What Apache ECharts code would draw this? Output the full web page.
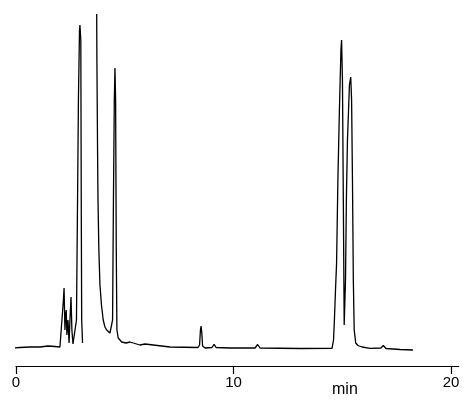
<!DOCTYPE html>
<html>
<head>
<meta charset="utf-8">
<script src="https://cdn.jsdelivr.net/npm/echarts@6/dist/echarts.min.js"></script>
<style>html,body{margin:0;padding:0;background:#fff;}#c{width:474px;height:405px;}</style>
</head>
<body>
<div id="c"></div>
<script>
// retention time (min)
const timeMin = [
 -0.14, 0.18, 0.64, 1.10, 1.47, 1.79, 2.02, 2.11, 2.18, 2.21, 2.25, 2.28, 2.31, 2.34, 2.39, 2.44, 2.48, 2.53, 2.57, 2.62, 2.71,
 2.78, 2.83, 2.87, 2.92, 2.94, 2.98, 3.00, 3.02, 3.06, 3.40, 3.71,
 3.72, 3.75, 3.77, 3.81, 3.86, 3.93, 4.01, 4.09, 4.17, 4.25, 4.32, 4.39, 4.44, 4.48, 4.52, 4.55, 4.58, 4.61, 4.64,
 4.70, 4.86, 5.06, 5.24, 5.33, 5.70, 5.93, 6.02, 7.08, 8.37, 8.44, 8.48, 8.51, 8.54, 8.58, 8.69,
 9.01, 9.11, 9.20, 9.84, 10.99, 11.11, 11.22, 13.06, 14.53, 14.60, 14.64, 14.69, 14.74, 14.80, 14.87, 14.94, 14.97,
 15.01, 15.05, 15.09, 15.15, 15.19, 15.24, 15.29, 15.33, 15.39, 15.43, 15.47, 15.51, 15.55, 15.62, 15.72, 15.91,
 16.28, 16.78, 16.89, 17.01, 17.66, 18.25
];
// detector response (arbitrary units); null = pen lift (rising edge of the off-scale solvent peak not inked)
const signal = [
 18, 18.5, 19, 19, 20, 19.5, 19, 21, 66, 78, 36, 51, 56, 31, 46, 23, 46, 69, 36, 22, 21,
 46, 166, 266, 336, 341, 326, 166, 46, 23, null, 352,
 306, 216, 166, 116, 81, 61, 46, 39, 36, 34, 33, 33, 46, 166, 266, 298, 266, 116, 36,
 28, 24, 23, 24, 22, 21, 22, 20.5, 19, 18.5, 21, 36, 40, 34, 20, 18,
 18.5, 21.7, 18.5, 18, 18, 21.5, 18, 17.5, 17.7, 26, 46, 76, 103, 186, 256, 316, 326,
 286, 166, 41, 86, 166, 226, 256, 281, 289, 266, 186, 86, 36, 23, 20.5, 19,
 17.7, 18, 20.5, 17.5, 16.5, 16
];
const xTicks = [0, 10, 20];
const xUnit = 'min';

const chart = echarts.init(document.getElementById('c'), null, {renderer: 'canvas'});
chart.setOption({
  animation: false,
  backgroundColor: '#fff',
  grid: {left: 16, right: 15.4, top: 14, bottom: 39},
  xAxis: {
    type: 'value', min: 0, max: 20.35,
    splitLine: {show: false},
    axisLine: {show: true, lineStyle: {color: '#000', width: 1.2}},
    axisTick: {show: true, inside: false, length: 8, customValues: xTicks, lineStyle: {color: '#000', width: 1.2}},
    axisLabel: {customValues: xTicks, margin: 9, color: '#000', fontSize: 15, fontFamily: 'Liberation Sans, Arial, sans-serif'}
  },
  yAxis: {type: 'value', min: 0, max: 352, show: false},
  graphic: [{
    type: 'text', left: 332, top: 382,
    style: {text: xUnit, fill: '#000', fontSize: 16, fontFamily: 'Liberation Sans, Arial, sans-serif'}
  }],
  series: [{
    type: 'line', clip: false, symbol: 'none', smooth: false, connectNulls: false,
    lineStyle: {color: '#000', width: 1.3},
    data: timeMin.map((t, i) => [t, signal[i] === null ? '-' : signal[i]])
  }]
});
</script>
</body>
</html>
